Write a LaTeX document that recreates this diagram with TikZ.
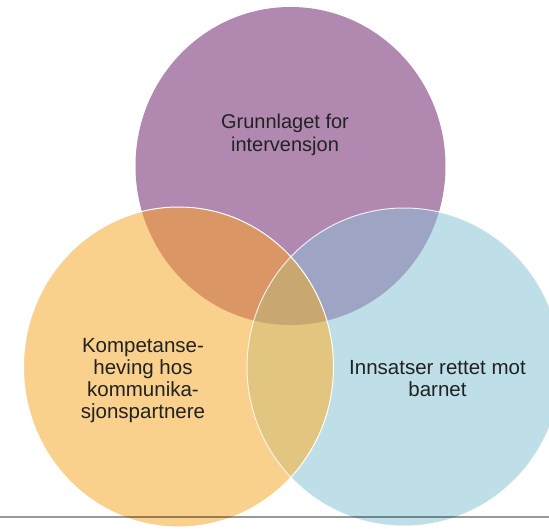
\documentclass[tikz,border=0pt]{standalone}
\usepackage{fontspec}
\setmainfont{Liberation Sans}
\definecolor{cpurple}{HTML}{B088B0}
\definecolor{corange}{HTML}{F9D08C}
\definecolor{cblue}{HTML}{BEDEE8}
\definecolor{cpo}{HTML}{DA9664}
\definecolor{cpb}{HTML}{9EA5C4}
\definecolor{cob}{HTML}{E2C680}
\definecolor{cpob}{HTML}{C8A870}
\definecolor{txt}{HTML}{222222}
\begin{document}
\begin{tikzpicture}[x=1pt,y=-1pt,
  lbl/.style={align=center, font=\fontsize{20.5}{22}\selectfont, text=txt, inner sep=0pt},
  rim/.style={draw=white, line width=1pt}]
\useasboundingbox (0,0) rectangle (549,529);
\fill[white] (0,0) rectangle (549,529);
% single circles
\fill[cpurple] (290.5,166) ellipse [x radius=155, y radius=159];
\fill[corange] (178.5,367) ellipse [x radius=155, y radius=160];
\fill[cblue] (404,367) ellipse [x radius=157, y radius=159];
% overlaps
\begin{scope}
  \clip (290.5,166) ellipse [x radius=155, y radius=159];
  \fill[cpo] (178.5,367) ellipse [x radius=155, y radius=160];
  \fill[cpb] (404,367) ellipse [x radius=157, y radius=159];
\end{scope}
\begin{scope}
  \clip (178.5,367) ellipse [x radius=155, y radius=160];
  \fill[cob] (404,367) ellipse [x radius=157, y radius=159];
\end{scope}
\begin{scope}
  \clip (290.5,166) ellipse [x radius=155, y radius=159];
  \clip (178.5,367) ellipse [x radius=155, y radius=160];
  \fill[cpob] (404,367) ellipse [x radius=157, y radius=159];
\end{scope}
% white rims
\draw[rim] (178.5,367) ellipse [x radius=155, y radius=160];
\draw[rim, opacity=0.8] (404,367) ellipse [x radius=157, y radius=159];
% base line
\coordinate (l0) at (0,517);
\coordinate (l1) at (549,517);
\draw[black, opacity=0.4, line width=1.5pt] (l0) -- (l1);
% labels
\node[lbl, font=\fontsize{20}{23}\selectfont] (top) at (285,135) {Grunnlaget for\\intervensjon};
\node[lbl] (left) at (143,381) {Kompetanse-\\heving hos\\kommunika-\\sjonspartnere};
\node[lbl] (right) at (437.5,379) {Innsatser rettet mot\\barnet};
\end{tikzpicture}
\end{document}
